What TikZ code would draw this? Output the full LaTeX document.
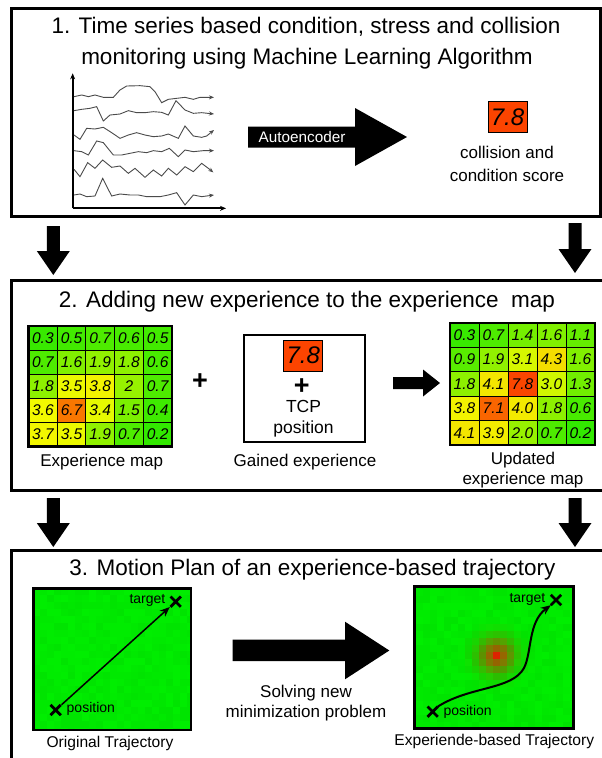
\documentclass[tikz,border=0pt]{standalone}
\usepackage{fontspec}
\setmainfont{Liberation Sans}
\usetikzlibrary{arrows.meta,shapes.misc}
\definecolor{hg}{RGB}{40,232,0}
\definecolor{hy}{RGB}{242,250,0}
\definecolor{hr}{RGB}{250,70,0}
\definecolor{scorered}{RGB}{252,68,0}
\definecolor{fieldgreen}{RGB}{0,238,0}
\definecolor{hotred}{RGB}{225,35,0}
\definecolor{sergray}{RGB}{75,75,75}
\tikzset{
 panel/.style={draw, line width=3pt, inner sep=0pt},
 title/.style={font=\fontsize{22.5}{27}\selectfont, inner sep=0pt},
 lbl/.style={font=\fontsize{17}{21}\selectfont, inner sep=0pt, align=center},
 smalllbl/.style={font=\fontsize{15.6}{19}\selectfont, inner sep=0pt},
 tinylbl/.style={font=\fontsize{14}{16}\selectfont, inner sep=0pt},
 cellbox/.style={draw, line width=1pt, inner sep=0pt, font=\itshape\fontsize{15.5}{16}\selectfont},
 scorebox/.style={draw, line width=1pt, fill=scorered, inner sep=0pt, minimum width=39pt, minimum height=31pt, font=\itshape\fontsize{24}{26}\selectfont},
 series/.style={sergray, line width=0.9pt, -{Stealth[length=5pt,width=4pt]}},
 xmark/.style={cross out, draw, line width=2.8pt, minimum size=7.5pt, inner sep=0pt},
 traj/.style={-{Stealth[length=10pt,width=8pt]}},
 fieldbox/.style={draw, line width=2.5pt, inner sep=0pt},
 plussign/.style={font=\bfseries\fontsize{27}{27}\selectfont, inner sep=0pt},
}
\newcommand{\heatmap}[6]{%
  \foreach \v [count=\k from 0] in {#6} {%
    \pgfmathtruncatemacro{\cc}{mod(\k,5)}%
    \pgfmathtruncatemacro{\rr}{floor(\k/5)}%
    \pgfmathtruncatemacro{\hp}{min(100,\v*100/3.6)}%
    \pgfmathtruncatemacro{\hq}{max(0,(\v-3.6)*100/4.2)}%
    \colorlet{hcA}{hy!\hp!hg}%
    \colorlet{hcB}{hr!\hq!hcA}%
    \node[cellbox, fill=hcB, minimum width=#4pt, minimum height=#5pt] (#1-\rr-\cc) at ({#2+(\cc+0.5)*#4},{#3+(\rr+0.5)*#5}) {\v};%
  }%
  \draw[line width=2.5pt] (#2,#3) rectangle ({#2+5*#4},{#3+5*#5});%
}
\newcommand{\downfat}[3]{%
  \fill (#1-6.5,#2) -- (#1+6.5,#2) -- (#1+6.5,#3-24) -- (#1+16.5,#3-24) -- (#1,#3) -- (#1-16.5,#3-24) -- (#1-6.5,#3-24) -- cycle;}
\begin{document}
\begin{tikzpicture}[x=1pt,y=-1pt]
\useasboundingbox (0,0) rectangle (602,758);
\clip (0,0) rectangle (602,758);
\fill[white] (0,0) rectangle (602,758);
\pgfmathsetseed{7}

% ---------- Panel 1 ----------
\node[panel, minimum width=589pt, minimum height=208pt] (p1) at (305.5,112) {};
\node[title] (t1a) at (306,26.7) {1. Time series based condition, stress and collision};
\node[title] (t1b) at (307,58.3) {monitoring using Machine Learning Algorithm};

\begin{scope}[shift={(50,60)},scale=1/3]
\draw[line width=2pt,-{Stealth[length=6pt,width=5pt]}] (68,445) -- (68,40);
\draw[line width=2pt,-{Stealth[length=6pt,width=5pt]}] (68,445) -- (528,445);
\draw[series] (72,110) -- (95,105) -- (115,110) -- (135,105) -- (160,112) -- (190,112) -- (210,90) -- (230,78) -- (270,77) -- (300,80) -- (315,95) -- (335,128) -- (355,118) -- (380,115) -- (405,112) -- (430,118) -- (450,112) -- (470,112) -- (492,112);
\draw[series] (72,152) -- (95,148) -- (120,145) -- (140,140) -- (160,183) -- (180,165) -- (210,162) -- (235,152) -- (260,158) -- (285,158) -- (310,155) -- (335,157) -- (355,165) -- (378,122) -- (405,150) -- (430,160) -- (455,158) -- (492,162);
\draw[series] (72,225) -- (90,238) -- (110,205) -- (135,207) -- (160,202) -- (185,218) -- (210,235) -- (235,225) -- (260,218) -- (285,225) -- (310,230) -- (335,228) -- (355,222) -- (385,235) -- (405,198) -- (430,228) -- (455,232) -- (470,228) -- (492,210);
\draw[series] (72,272) -- (95,275) -- (115,285) -- (140,243) -- (160,248) -- (190,285) -- (215,285) -- (240,280) -- (265,275) -- (290,278) -- (310,272) -- (335,275) -- (358,265) -- (385,290) -- (405,270) -- (430,275) -- (460,272) -- (492,272);
\draw[series] (72,328) -- (90,350) -- (113,308) -- (135,325) -- (158,300) -- (185,322) -- (210,318) -- (235,340) -- (255,325) -- (285,352) -- (310,330) -- (335,348) -- (355,325) -- (380,345) -- (405,320) -- (430,335) -- (455,310) -- (475,325) -- (490,337);
\draw[series] (72,405) -- (90,402) -- (110,410) -- (135,408) -- (158,355) -- (185,408) -- (210,402) -- (240,405) -- (265,405) -- (290,410) -- (330,410) -- (355,405) -- (380,398) -- (405,435) -- (430,405) -- (455,410) -- (492,405);
\end{scope}

\fill (248,126.5) -- (355,126.5) -- (355,108) -- (407,137) -- (355,166) -- (355,147.5) -- (248,147.5) -- cycle;
\node[font=\fontsize{15.3}{18}\selectfont, text=white, inner sep=0pt] (autoenc) at (302,136.7) {Autoencoder};

\node[scorebox] (score1) at (507.5,117) {7.8};
\node[lbl, font=\fontsize{17}{23}\selectfont] (score1lbl) at (507,163.5) {collision and\\condition score};

% ---------- arrows 1 -> 2 ----------
\downfat{53.3}{226}{275}
\downfat{575}{223}{273}

% ---------- Panel 2 ----------
\node[panel, minimum width=593pt, minimum height=210pt] (p2) at (307.5,385) {};
\node[title] (t2) at (307,302) {2. Adding new experience to the experience\ \ map};

\heatmap{mA}{28.5}{326}{28.7}{24.1}{0.3,0.5,0.7,0.6,0.5,0.7,1.6,1.9,1.8,0.6,1.8,3.5,3.8,2,0.7,3.6,6.7,3.4,1.5,0.4,3.7,3.5,1.9,0.7,0.2}
\node[lbl] (mAlbl) at (101.7,461.7) {Experience map};

\node[plussign] (plusA) at (200,382) {+};

\node[draw, line width=2pt, minimum width=121pt, minimum height=107pt, inner sep=0pt] (gain) at (304.5,388) {};
\node[scorebox] (score2) at (303.3,355.5) {7.8};
\node[plussign] (plusB) at (301.7,386.5) {+};
\node[lbl, font=\fontsize{17.5}{21}\selectfont] (tcp) at (303.5,419) {TCP\\position};
\node[lbl] (gainlbl) at (305,462.3) {Gained experience};

\fill (393,377) -- (423,377) -- (423,369.5) -- (440,383) -- (423,396.5) -- (423,389) -- (393,389) -- cycle;

\heatmap{mB}{450}{323}{29}{24.4}{0.3,0.7,1.4,1.6,1.1,0.9,1.9,3.1,4.3,1.6,1.8,4.1,7.8,3.0,1.3,3.8,7.1,4.0,1.8,0.6,4.1,3.9,2.0,0.7,0.2}
\node[lbl, font=\fontsize{17}{20}\selectfont] (mBlbl) at (523,470) {Updated\\experience map};

% ---------- arrows 2 -> 3 ----------
\downfat{53.3}{498}{547}
\downfat{575}{498}{547}

% ---------- Panel 3 ----------
\node[panel, minimum width=593pt, minimum height=220pt] (p3) at (307.5,660) {};
\node[title] (t3) at (312.5,570) {3. Motion Plan of an experience-based trajectory};

% left field
\begin{scope}
\clip (33.3,588.3) rectangle (191,730);
\foreach \i in {0,...,22} {\foreach \j in {0,...,20} {
  \pgfmathtruncatemacro{\sh}{random(96,100)}
  \fill[fieldgreen!\sh!black] (33.3+\i*7,588.3+\j*7) rectangle ++(7.4,7.4);
}}
\end{scope}
\node[fieldbox, minimum width=157.7pt, minimum height=141.7pt] (fieldA) at (112.15,659.15) {};
\node[xmark] (posA) at (55.7,710) {};
\node[xmark] (tgtA) at (175.7,601.7) {};
\node[tinylbl, anchor=west] (posAlbl) at (66.5,709) {position};
\node[tinylbl, anchor=east] (tgtAlbl) at (165.5,600) {target};
\draw[traj, line width=1.5pt, shorten <=1pt, shorten >=1pt] (posA) -- (tgtA);
\node[smalllbl] (fieldAlbl) at (110,743.3) {Original Trajectory};

% big arrow
\fill (232.5,639.5) -- (345,639.5) -- (345,621.7) -- (389.3,650.5) -- (345,679.3) -- (345,661) -- (232.5,661) -- cycle;
\node[lbl, font=\fontsize{17}{20}\selectfont] (solve) at (306,703.3) {Solving new\\minimization problem};

% right field
\begin{scope}
\clip (414.3,586.7) rectangle (573.3,728.3);
\foreach \i in {-12,...,11} {\foreach \j in {-10,...,11} {
  \pgfmathtruncatemacro{\sh}{random(96,100)}
  \pgfmathtruncatemacro{\pp}{min(100,78*exp(-((\i)*(\i)+(\j)*(\j))*49/330))}
  \pgfmathtruncatemacro{\pq}{(\i==0 && \j==0) ? 100 : \pp}
  \fill[hotred!\pq!fieldgreen!\sh!black] (493.2+\i*7,651.5+\j*7) rectangle ++(7.4,7.4);
}}
\end{scope}
\node[fieldbox, minimum width=159pt, minimum height=141.6pt] (fieldB) at (493.8,657.5) {};
\node[xmark] (posB) at (432.7,711.7) {};
\node[xmark] (tgtB) at (556,600) {};
\node[tinylbl, anchor=west] (posBlbl) at (443.3,711.7) {position};
\node[tinylbl, anchor=east] (tgtBlbl) at (545.5,599) {target};
\draw[traj, line width=2pt] (posB.north east) .. controls (470,686) and (512,690) .. (524,668) .. controls (532,652) and (528,622) .. (tgtB.south west);
\node[smalllbl] (fieldBlbl) at (494.3,741.7) {Experiende-based Trajectory};
\end{tikzpicture}
\end{document}
